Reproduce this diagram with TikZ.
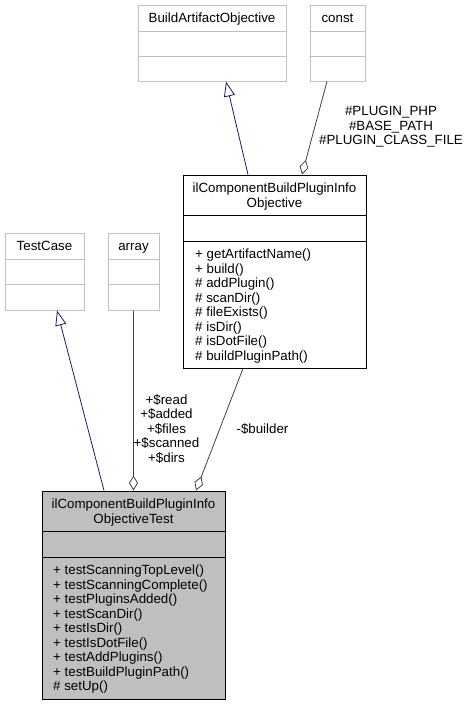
\documentclass[tikz,border=0pt]{standalone}
\usepackage{fontspec}
\setmainfont{Liberation Sans}
\usetikzlibrary{arrows.meta}
\definecolor{navyline}{HTML}{191970}
\definecolor{greybox}{HTML}{BFBFBF}
\definecolor{edgegrey}{HTML}{404040}
\tikzset{
  umltext/.style={font=\fontsize{13.33}{14.5}\selectfont, inner sep=0pt},
  extbox/.style={draw=greybox, line width=1pt, inner sep=0pt},
  ownbox/.style={draw=black, line width=1pt, inner sep=0pt},
  inherit/.style={navyline, line width=0.8pt, -{Triangle[open, length=15pt, width=11pt]}},
  aggr/.style={edgegrey, line width=0.8pt, {Diamond[open, length=15pt, width=9pt]}-},
}
\begin{document}
\begin{tikzpicture}[x=1pt, y=-1pt]
\useasboundingbox (0,0) rectangle (469,705);

\node[extbox, minimum width=148pt, minimum height=76pt] (bao) at (212,43) {};
\draw[greybox, line width=1pt] (138,31) -- (286,31) (138,56) -- (286,56);
\node[umltext, anchor=base] (baoname) at (212,22.5) {BuildArtifactObjective};

\node[extbox, minimum width=55pt, minimum height=76pt] (const) at (337.5,43) {};
\draw[greybox, line width=1pt] (310,31) -- (365,31) (310,56) -- (365,56);
\node[umltext, anchor=base] (constname) at (337.5,22.5) {const};

\node[extbox, minimum width=79pt, minimum height=77pt] (testcase) at (44.5,271.5) {};
\draw[greybox, line width=1pt] (5,259) -- (84,259) (5,284) -- (84,284);
\node[umltext, anchor=base] (testcasename) at (44.5,250.5) {TestCase};

\node[extbox, minimum width=51pt, minimum height=77pt] (array) at (133.5,271.5) {};
\draw[greybox, line width=1pt] (108,259) -- (159,259) (108,284) -- (159,284);
\node[umltext, anchor=base] (arrayname) at (133.5,250.5) {array};

\node[ownbox, minimum width=183pt, minimum height=193pt] (cbpio) at (274.5,271.5) {};
\draw[black, line width=1pt] (183,215) -- (366,215) (183,241) -- (366,241);
\node[umltext, anchor=north, align=center] (cbpioname) at (274.5,183) {ilComponentBuildPluginInfo\\Objective};
\node[umltext, anchor=north west, align=left] (cbpiomethods) at (195,249) {+ getArtifactName()\\+ build()\\\# addPlugin()\\\# scanDir()\\\# fileExists()\\\# isDir()\\\# isDotFile()\\\# buildPluginPath()};

\node[ownbox, fill=greybox, minimum width=183pt, minimum height=208pt] (test) at (133.5,595) {};
\draw[black, line width=1pt] (42,531) -- (225,531) (42,557) -- (225,557);
\node[umltext, anchor=north, align=center] (testname) at (133.5,499) {ilComponentBuildPluginInfo\\ObjectiveTest};
\node[umltext, anchor=north west, align=left] (testmethods) at (53,565) {+ testScanningTopLevel()\\+ testScanningComplete()\\+ testPluginsAdded()\\+ testScanDir()\\+ testIsDir()\\+ testIsDotFile()\\+ testAddPlugins()\\+ testBuildPluginPath()\\\# setUp()};

\draw[inherit] ([xshift=-26.5pt]cbpio.north) -- ([xshift=14pt]bao.south);
\draw[aggr] ([xshift=27.5pt]cbpio.north) -- ([xshift=-10.5pt]const.south);
\draw[inherit] ([xshift=-29.5pt]test.north) -- ([xshift=12.5pt]testcase.south);
\draw[aggr] (test.north) -- (array.south);
\draw[aggr] ([xshift=62.5pt]test.north) -- ([xshift=-31.5pt]cbpio.south);

\node[umltext, align=center] (constlabel) at (391,127) {\#PLUGIN\_PHP\\\#BASE\_PATH\\\#PLUGIN\_CLASS\_FILE};
\node[umltext, align=center] (arraylabel) at (166.5,429) {+\$read\\+\$added\\+\$files\\+\$scanned\\+\$dirs};
\node[umltext] (builderlabel) at (262.5,429) {-\$builder};

\end{tikzpicture}
\end{document}
